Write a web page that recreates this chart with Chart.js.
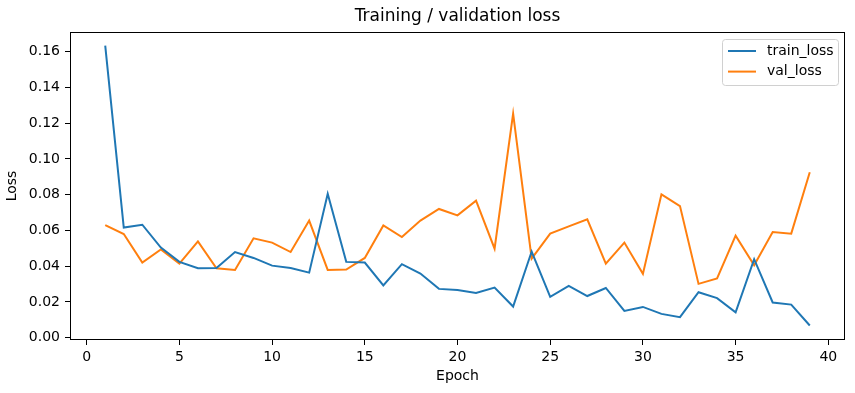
<!DOCTYPE html>
<html>
<head>
<meta charset="utf-8">
<script src="https://cdn.jsdelivr.net/npm/chart.js@4"></script>
<style>
  body { margin: 0; background: #fff; }
</style>
</head>
<body>
<canvas id="lossChart" width="855" height="393"></canvas>
<script>
// données
const epochs = [1, 2, 3, 4, 5, 6, 7, 8, 9, 10, 11, 12, 13, 14, 15, 16, 17, 18, 19, 20,
  21, 22, 23, 24, 25, 26, 27, 28, 29, 30, 31, 32, 33, 34, 35, 36, 37, 38, 39];
const trainLoss = [0.1634, 0.0616, 0.0632, 0.0504, 0.0424, 0.0388, 0.0390, 0.0479, 0.0446, 0.0403,
  0.0390, 0.0364, 0.0805, 0.0424, 0.0420, 0.0292, 0.0411, 0.0359, 0.0273, 0.0267,
  0.0250, 0.0280, 0.0174, 0.0482, 0.0228, 0.0290, 0.0233, 0.0278, 0.0150, 0.0172,
  0.0133, 0.0115, 0.0254, 0.0221, 0.0142, 0.0439, 0.0197, 0.0185, 0.0068];
const valLoss = [0.0630, 0.0580, 0.0420, 0.0493, 0.0414, 0.0539, 0.0388, 0.0379, 0.0556, 0.0532,
  0.0479, 0.0655, 0.0379, 0.0381, 0.0446, 0.0628, 0.0563, 0.0655, 0.0720, 0.0684,
  0.0766, 0.0498, 0.1254, 0.0442, 0.0582, 0.0623, 0.0662, 0.0414, 0.0532, 0.0357,
  0.0802, 0.0736, 0.0301, 0.0331, 0.0571, 0.0405, 0.0591, 0.0582, 0.0925];
const xTicks = [0, 5, 10, 15, 20, 25, 30, 35, 40];
const yTicks = [0, 0.02, 0.04, 0.06, 0.08, 0.10, 0.12, 0.14, 0.16];

const FONT = 'DejaVu Sans';

// cadre, titre et légende dans la zone du graphique (style matplotlib)
const framePlugin = {
    id: 'frame',
    afterDraw(chart) {
        const ctx = chart.ctx;
        const a = chart.chartArea;
        ctx.save();
        ctx.strokeStyle = '#000';
        ctx.lineWidth = 1;
        ctx.strokeRect(a.left + 0.5, a.top + 0.5, a.right - a.left - 1, a.bottom - a.top - 1);

        ctx.fillStyle = '#000';
        ctx.font = '17px "' + FONT + '"';
        ctx.textAlign = 'center';
        ctx.textBaseline = 'middle';
        ctx.fillText('Training / validation loss', (a.left + a.right) / 2, 17);

        // légende
        const bx = 722.5, by = 39.5, bw = 116, bh = 46;
        ctx.beginPath();
        ctx.roundRect(bx, by, bw, bh, 3);
        ctx.fillStyle = 'rgba(255,255,255,0.8)';
        ctx.fill();
        ctx.strokeStyle = '#d0d0d0';
        ctx.lineWidth = 1;
        ctx.stroke();

        ctx.font = '14px "' + FONT + '"';
        ctx.textAlign = 'left';
        chart.data.datasets.forEach((ds, i) => {
            const y = 51 + i * 20.6;
            ctx.strokeStyle = ds.borderColor;
            ctx.lineWidth = 2;
            ctx.beginPath();
            ctx.moveTo(728, y);
            ctx.lineTo(756, y);
            ctx.stroke();
            ctx.fillStyle = '#000';
            ctx.fillText(ds.label, 767, y);
        });
        ctx.restore();
    }
};

const ctx = document.getElementById('lossChart').getContext('2d');
const lossChart = new Chart(ctx, {
    type: 'line',
    data: {
        datasets: [
            {
                label: 'train_loss',
                data: epochs.map((e, i) => ({ x: e, y: trainLoss[i] })),
                borderColor: '#1f77b4',
                borderWidth: 2,
                pointRadius: 0,
                tension: 0
            },
            {
                label: 'val_loss',
                data: epochs.map((e, i) => ({ x: e, y: valLoss[i] })),
                borderColor: '#ff7f0e',
                borderWidth: 2,
                pointRadius: 0,
                tension: 0
            }
        ]
    },
    options: {
        responsive: false,
        animation: false,
        layout: { padding: { left: 0, top: 32, right: 10, bottom: 0 } },
        plugins: {
            legend: { display: false },
            tooltip: { enabled: false }
        },
        scales: {
            x: {
                type: 'linear',
                min: -0.9,
                max: 40.9,
                afterBuildTicks: (s) => { s.ticks = xTicks.map(v => ({ value: v })); },
                afterFit: (s) => { s.height = 53; },
                border: { display: false },
                grid: { drawOnChartArea: false, drawTicks: true, tickLength: 5, tickColor: '#000' },
                ticks: { color: '#000', padding: 4, maxRotation: 0, font: { family: FONT, size: 14 } },
                title: { display: true, text: 'Epoch', color: '#000', padding: { top: 4, bottom: 8 }, font: { family: FONT, size: 14 } }
            },
            y: {
                type: 'linear',
                min: -0.0013,
                max: 0.171,
                afterBuildTicks: (s) => { s.ticks = yTicks.map(v => ({ value: v })); },
                afterFit: (s) => { s.width = 70; },
                border: { display: false },
                grid: { drawOnChartArea: false, drawTicks: true, tickLength: 5, tickColor: '#000' },
                ticks: {
                    color: '#000',
                    padding: 5,
                    font: { family: FONT, size: 14 },
                    callback: (v) => v.toFixed(2)
                },
                title: { display: true, text: 'Loss', color: '#000', padding: { top: 4, bottom: 4 }, font: { family: FONT, size: 14 } }
            }
        }
    },
    plugins: [framePlugin]
});
</script>
</body>
</html>
